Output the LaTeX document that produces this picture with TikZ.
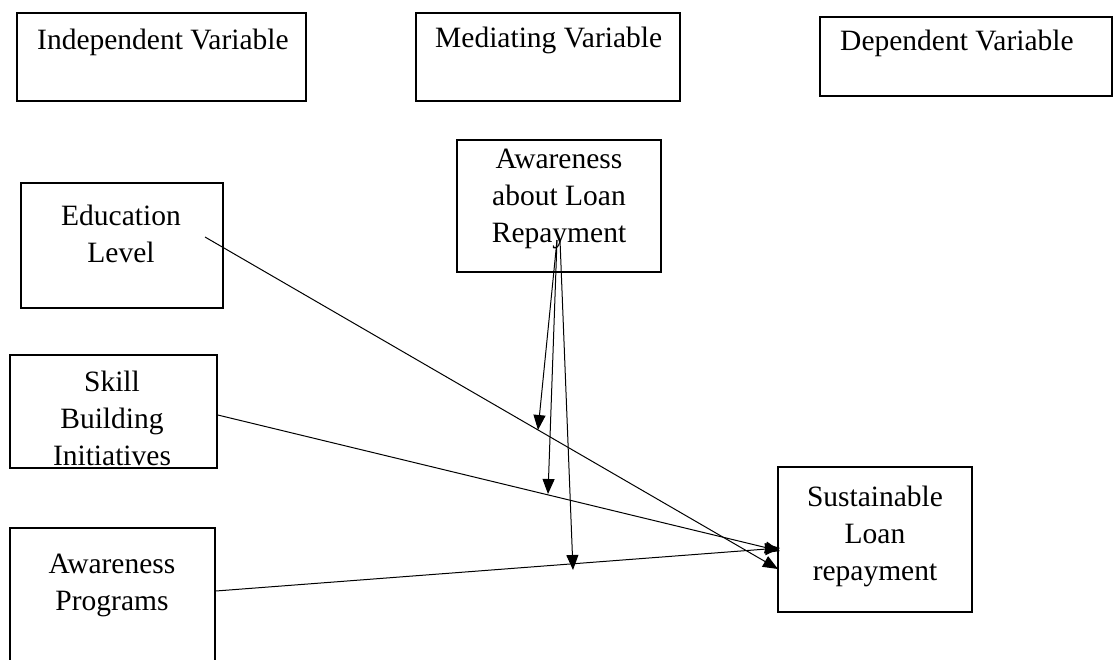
\documentclass[tikz,border=0pt]{standalone}
\usepackage{fontspec}
\setmainfont{Liberation Serif}
\usetikzlibrary{arrows.meta}
\usetikzlibrary{positioning}

\tikzset{
  box/.style={draw, line width=1.6pt, inner sep=0pt},
  txt/.style={align=center, inner sep=0pt, font=\fontsize{29.5}{37}\selectfont},
  head/.style={anchor=west, inner sep=0pt, font=\fontsize{29.5}{36}\selectfont},
  link/.style={line width=1pt, -{Triangle[length=15pt,width=12pt]}}
}

\begin{document}
\begin{tikzpicture}[x=1pt, y=-1pt]
    \clip (0,0) rectangle (1119,659);
    \useasboundingbox (0,0) rectangle (1119,659);

    % Cadres du haut
    \node[box, minimum width=289pt, minimum height=88pt] (iv) at (161.5,57) {};
    \node[box, minimum width=264pt, minimum height=88pt] (mv) at (548,57) {};
    \node[box, minimum width=292pt, minimum height=79pt] (dv) at (966,56.5) {};
    \node[head] (ivtxt) at (37,42) {Independent Variable};
    \node[head] (mvtxt) at (435,40) {Mediating Variable};
    \node[head] (dvtxt) at (840,43) {Dependent Variable};

    % Variables
    \node[box, minimum width=204pt, minimum height=132pt] (aware) at (559,206) {};
    \node[txt] (awaretxt) at (559,199) {Awareness\\about Loan\\Repayment};

    \node[box, minimum width=202pt, minimum height=125pt] (edu) at (122,245.5) {};
    \node[txt] (edutxt) at (121,234) {Education\\Level};

    \node[box, minimum width=207pt, minimum height=113pt] (skill) at (113.5,411.5) {};
    \node[txt] (skilltxt) at (112,418) {Skill\\Building\\Initiatives};

    \node[box, minimum width=205pt, minimum height=172pt] (prog) at (112.5,614) {};
    \node[txt] (progtxt) at (112,585) {Awareness\\Programs};

    \node[box, minimum width=194pt, minimum height=145pt] (sust) at (875,539.5) {};
    \node[txt] (susttxt) at (875,536) {Sustainable\\Loan\\repayment};

    % Points libres
    \coordinate (edustart) at (205,237);
    \coordinate (medsrc) at (557,240);
    \coordinate (m1) at (538,430);
    \coordinate (m2) at (548,494);
    \coordinate (m3) at (573,570);

    % Fleches
    \draw[link] (edustart) -- (778,569);
    \draw[link] (skill.east |- 0,415) -- (780,551);
    \draw[link] (prog.east |- 0,591) -- (780,548);
    \draw[link] (medsrc) -- (m1);
    \draw[link] (medsrc) -- (m2);
    \draw[link] ([xshift=3pt]medsrc) -- (m3);
\end{tikzpicture}
\end{document}
